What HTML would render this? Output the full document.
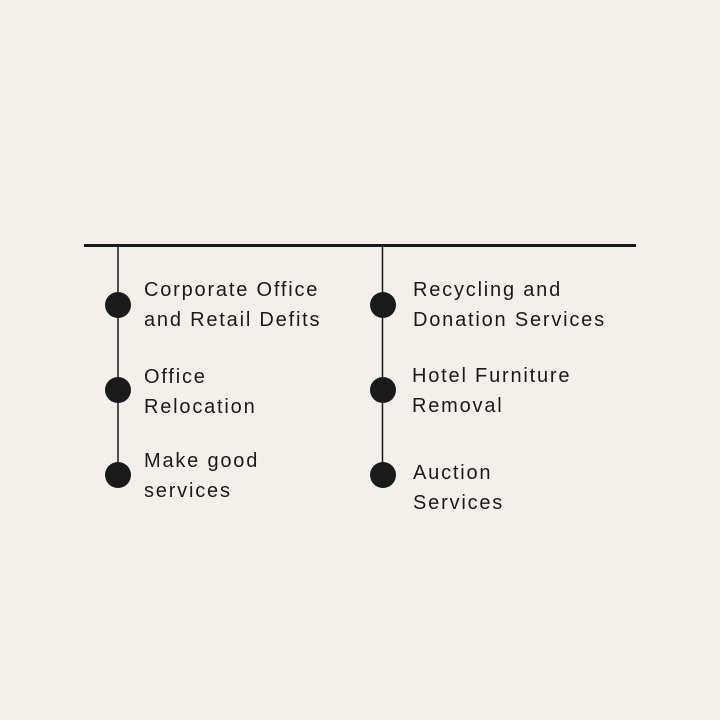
<!DOCTYPE html>
<html><head><style>
body{margin:0;width:720px;height:720px;background:#f3f0eb;position:relative;overflow:hidden;font-family:"Liberation Sans",sans-serif;color:#1a1a1a}
.t{position:absolute;font-size:20px;line-height:30px;letter-spacing:1.8px;white-space:nowrap}
</style></head><body>
<svg width="720" height="720" style="position:absolute;left:0;top:0">
<line x1="84" y1="245.5" x2="636" y2="245.5" stroke="#1a1a1a" stroke-width="3"/>
<line x1="118" y1="246" x2="118" y2="476" stroke="#1a1a1a" stroke-width="1.5"/>
<line x1="382.5" y1="246" x2="382.5" y2="476" stroke="#1a1a1a" stroke-width="1.5"/>
<g fill="#1a1a1a">
<circle cx="118" cy="305" r="13"/><circle cx="118" cy="390" r="13"/><circle cx="118" cy="475" r="13"/>
<circle cx="383" cy="305" r="13"/><circle cx="383" cy="390" r="13"/><circle cx="383" cy="475" r="13"/>
</g></svg>
<div class="t" style="left:144px;top:275px">Corporate Office<br>and Retail Defits</div>
<div class="t" style="left:144px;top:362px">Office<br>Relocation</div>
<div class="t" style="left:144px;top:446px">Make good<br>services</div>
<div class="t" style="left:413px;top:275px">Recycling and<br>Donation Services</div>
<div class="t" style="left:412px;top:361px">Hotel Furniture<br>Removal</div>
<div class="t" style="left:413px;top:458px">Auction<br>Services</div>
</body></html>
